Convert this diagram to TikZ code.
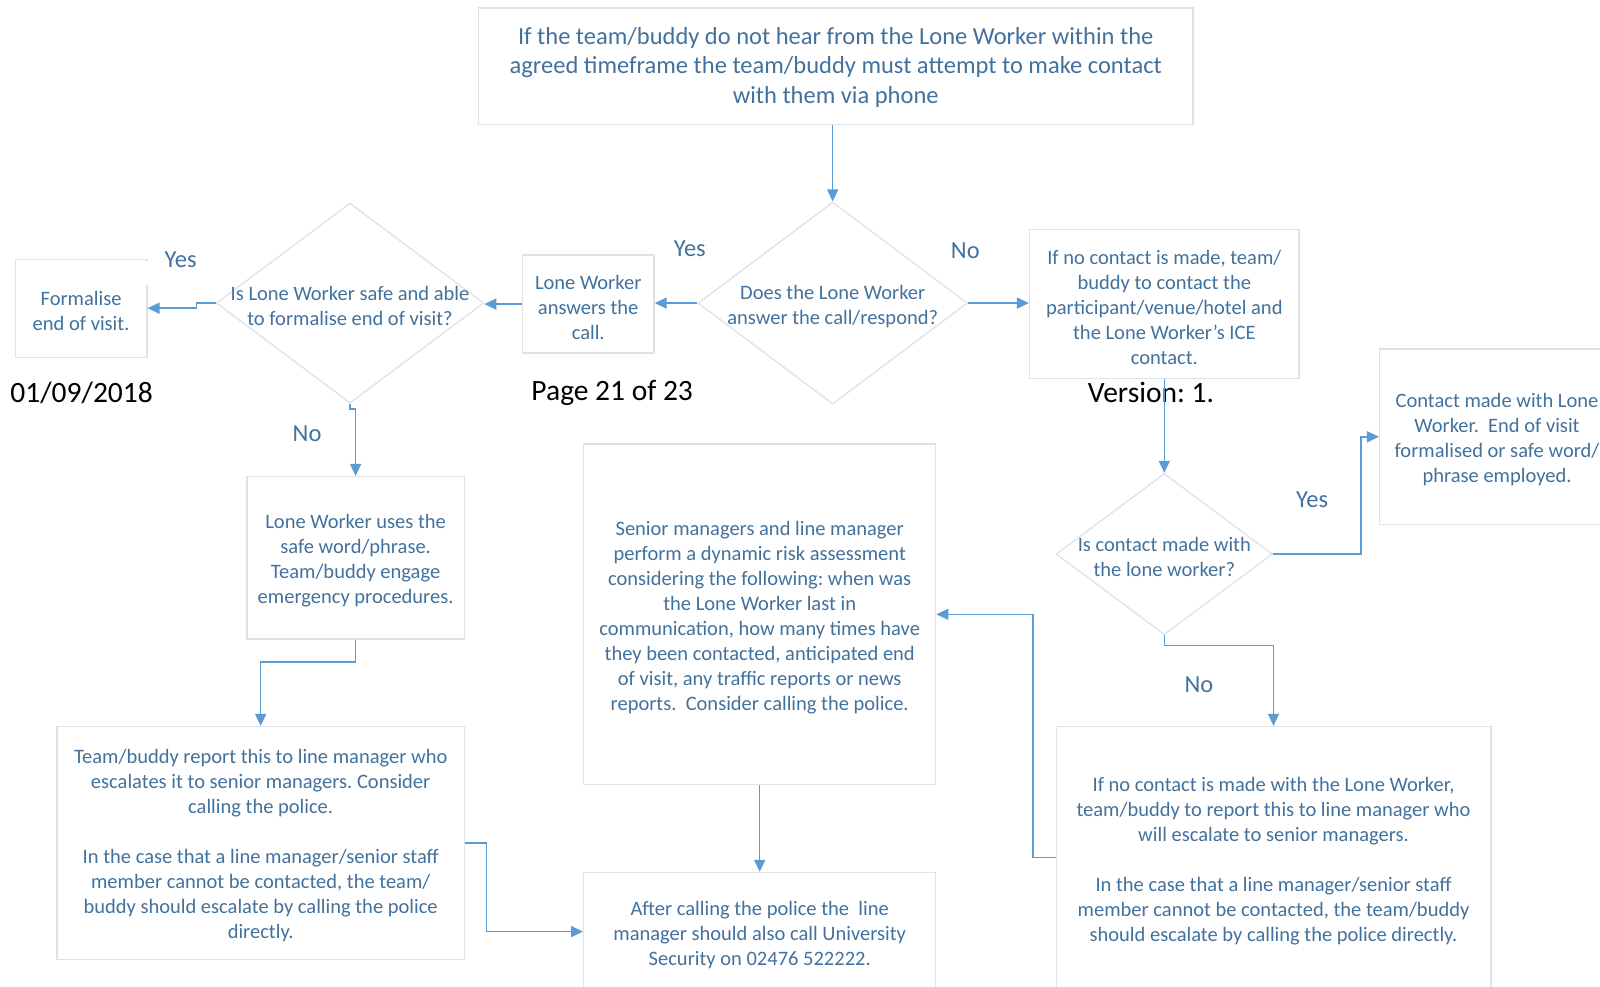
\documentclass[tikz,border=0pt]{standalone}
\usepackage{fontspec}
\setmainfont{Carlito}
\frenchspacing
\usetikzlibrary{shapes.geometric,arrows.meta}
\definecolor{txtblue}{HTML}{41719C}
\definecolor{arrblue}{HTML}{5B9BD5}
\definecolor{boxgray}{HTML}{DCE2EA}
\begin{document}
\begin{tikzpicture}[x=1pt,y=-1pt,
  box/.style={draw=boxgray,line width=1.3pt,inner sep=0pt},
  btxt/.style={text=txtblue,align=center,inner sep=0pt,yshift=-3pt,
    font=\fontsize{20.5}{25}\selectfont},
  dia/.style={diamond,draw=boxgray,line width=1.3pt,inner sep=0pt},
  lbl/.style={text=txtblue,font=\fontsize{24.5}{29}\selectfont,inner sep=0pt},
  foot/.style={text=black,font=\fontsize{29.5}{35}\selectfont,inner sep=0pt},
  arr/.style={draw=arrblue,line width=1.5pt,-{Triangle[length=12pt,width=11pt]}}
]
\useasboundingbox (0,0) rectangle (1600,987);
\clip (0,0) rectangle (1600,987);

% footer texts
\node[foot] (date) at (81.6,392.8) {01/09/2018};
\node[foot] (page) at (612.2,392.8) {Page 21 of 23};
\node[foot] (ver) at (1151,392.8) {Version: 1.};

% boxes and diamonds
\node[box,minimum width=714.3pt,minimum height=116.3pt] (top) at (835.7,66.3) {};
\node[btxt,yshift=2pt,font=\fontsize{24.5}{29.6}\selectfont] (topt) at (top.center)
  {If the team/buddy do not hear from the Lone Worker within the\\agreed timeframe the team/buddy must attempt to make contact\\with them via phone};

\node[dia,minimum width=269.4pt,minimum height=202pt] (d1) at (832.7,303.1) {};
\node[btxt] (d1t) at (d1.center) {Does the Lone Worker\\answer the call/respond?};

\node[box,minimum width=131.7pt,minimum height=98pt] (lwa) at (588.2,304.1) {};
\node[btxt] (lwat) at (lwa.center) {Lone Worker\\answers the\\call.};

\node[box,minimum width=269.4pt,minimum height=149pt] (r1) at (1164.3,304.1) {};
\node[btxt] (r1t) at (r1.center)
  {If no contact is made, team/\\buddy to contact the\\participant/venue/hotel and\\the Lone Worker’s ICE\\contact.};

\node[dia,minimum width=267.4pt,minimum height=200pt] (d2) at (350,303.1) {};
\node[btxt] (d2t) at (d2.center) {Is Lone Worker safe and able\\to formalise end of visit?};

\node[box,minimum width=131.6pt,minimum height=98pt] (form) at (81.1,308.2) {};
\node[btxt] (formt) at (form.center) {Formalise\\end of visit.};

\node[box,minimum width=217.4pt,minimum height=162.3pt] (lwu) at (355.6,557.7) {};
\node[btxt] (lwut) at (lwu.center)
  {Lone Worker uses the\\safe word/phrase.\\Team/buddy engage\\emergency procedures.};

\node[box,minimum width=407.2pt,minimum height=232.7pt] (team) at (260.7,842.9) {};
\node[btxt] (teamt) at (team.center)
  {Team/buddy report this to line manager who\\escalates it to senior managers. Consider\\calling the police.\\[25pt]In the case that a line manager/senior staff\\member cannot be contacted, the team/\\buddy should escalate by calling the police\\directly.};

\node[box,minimum width=352pt,minimum height=340.8pt] (senior) at (759.7,614.3) {};
\node[btxt] (seniort) at (senior.center)
  {Senior managers and line manager\\perform a dynamic risk assessment\\considering the following: when was\\the Lone Worker last in\\communication, how many times have\\they been contacted, anticipated end\\of visit, any traffic reports or news\\reports.\ \ Consider calling the police.};

\node[box,minimum width=352pt,minimum height=118.4pt] (after) at (759.7,931.6) {};
\node[btxt] (aftert) at (after.center)
  {After calling the police the\ \ line\\manager should also call University\\Security on 02476 522222.};

\node[dia,minimum width=216.4pt,minimum height=161.2pt] (d3) at (1164.3,554.1) {};
\node[btxt] (d3t) at (d3.center) {Is contact made with\\the lone worker?};

\node[box,minimum width=234.8pt,minimum height=175.5pt] (cm) at (1497,436.8) {};
\node[btxt] (cmt) at (cm.center)
  {Contact made with Lone\\Worker.\ \ End of visit\\formalised or safe word/\\phrase employed.};

\node[box,minimum width=434.7pt,minimum height=262.4pt] (br) at (1273.5,857.7) {};
\node[btxt] (brt) at (br.center)
  {If no contact is made with the Lone Worker,\\team/buddy to report this to line manager who\\will escalate to senior managers.\\[25pt]In the case that a line manager/senior staff\\member cannot be contacted, the team/buddy\\should escalate by calling the police directly.};

% small gap in the Formalise box border
\fill[white] (145,261) rectangle (149,285);

% labels
\node[lbl] (yes1) at (689.8,249) {Yes};
\node[lbl] (no1) at (965.3,251) {No};
\node[lbl] (yes2) at (180.6,260.2) {Yes};
\node[lbl] (no2) at (307.1,433.7) {No};
\node[lbl] (yes3) at (1312.2,500) {Yes};
\node[lbl] (no3) at (1199,684.7) {No};

% connectors
\draw[arr] (d1.north |- top.south) -- (d1.north);
\draw[arr] (d1.west) -- (d1.west -| lwa.east);
\draw[arr] (d1.east) -- (d1.east -| r1.west);
\draw[arr] (lwa.west) -- (lwa.west -| d2.east);
\draw[arr] (d2.west) -- ++(-19.4,0) |- (form.east);
\draw[arr] (d2.south) -- ++(0,5) -| (lwu.north);
\draw[arr] (lwu.south) -- ++(0,22.4) -| (team.north);
\draw[arr] (team.east) -- ++(21.4,0) |- (after.west);
\draw[arr] (senior.south) -- (after.north);
\draw[arr] (br.west) -- ++(-22.4,0) |- (senior.east);
\draw[arr] (r1.south) -- (d3.north);
\draw[arr] (d3.east) -- ++(87.8,0) |- (cm.west);
\draw[arr] (d3.south) -- ++(0,10.3) -| (br.north);
\end{tikzpicture}
\end{document}
